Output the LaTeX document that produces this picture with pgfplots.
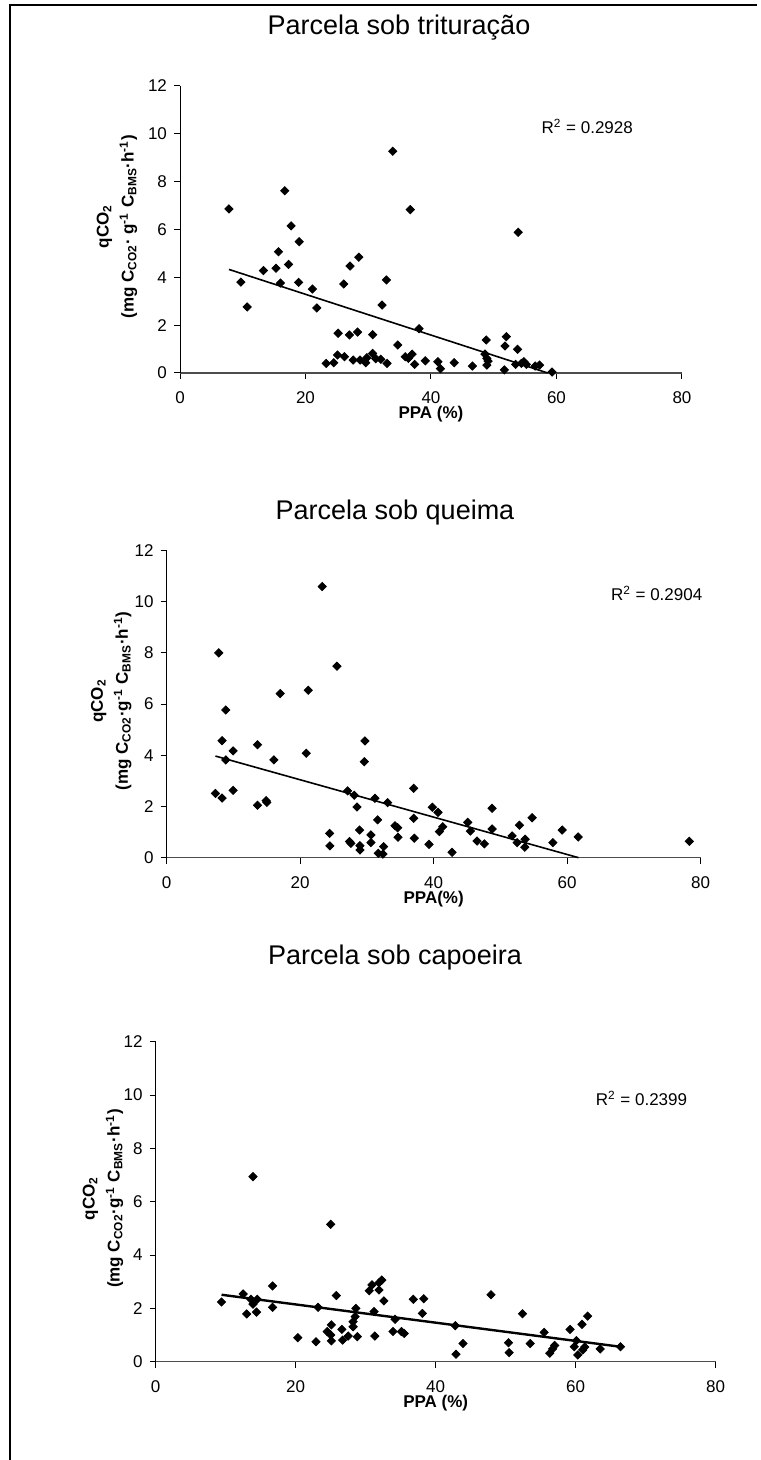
\documentclass[border=0pt]{standalone}
\usepackage{fontspec}
\setmainfont{Liberation Sans}
\usepackage{pgfplots}
\pgfplotsset{compat=1.18}

\pgfplotsset{
  parcela/.style={
    scale only axis,
    anchor=south west,
    xmin=0, xmax=80, ymin=0, ymax=12,
    xtick={0,20,...,80}, ytick={0,2,...,12},
    axis x line*=bottom, axis y line*=left,
    x axis line style={black!70, line width=0.6pt},
    y axis line style={black, line width=0.5pt},
    tick align=outside, major tick length=3pt,
    tick style={black, line width=0.5pt},
    ticklabel style={font=\fontsize{8.5}{10}\selectfont},
    /pgf/number format/assume math mode=true,
    xticklabel style={yshift=-3pt},
    clip=false,
    every axis x label/.style={at={(axis description cs:0.5,0)}, anchor=center,
      yshift=-20.5pt, font=\bfseries\fontsize{8.5}{10}\selectfont},
  },
  ylab/.style={every axis y label/.style={at={(axis description cs:#1,0.51)},
      rotate=90, anchor=center, align=center,
      font=\bfseries\fontsize{8.5}{12.5}\selectfont}},
  diam/.style={only marks, mark=square*, mark size=1.45pt,
    mark options={rotate=45, fill=black, draw=black}},
  tend/.style={black, line width=0.8pt, no marks},
}

\begin{document}
\begin{tikzpicture}
\path[use as bounding box] (0,0) rectangle (380pt,730pt);
\draw[line width=1.2pt] (5pt,0) -- (5pt,727.5pt) -- (378.5pt,727.5pt);

% --- trituracao
\node[font=\fontsize{13.5}{16}\selectfont] at (199.5pt,716pt) {Parcela sob trituração};
\begin{axis}[parcela, ylab=-0.1255,
  at={(90pt,543.5pt)}, width=251pt, height=143.5pt,
  xlabel={PPA (\%)},
  ylabel={qCO\textsubscript{2}\\(mg C\textsubscript{CO2}· g\textsuperscript{-1} C\textsubscript{BMS}·h\textsuperscript{-1})}]
\addplot[diam] coordinates {
(7.8,6.86) (9.7,3.80) (10.7,2.76) (13.3,4.28) (15.3,4.38) (15.7,5.07) (16.0,3.76)
(16.7,7.62) (17.3,4.54) (17.7,6.15) (19.0,5.49) (18.9,3.79) (21.1,3.51) (21.8,2.72)
(23.3,0.40) (24.5,0.43) (25.2,1.66) (25.1,0.75) (26.2,0.68) (26.1,3.72) (27.1,4.47)
(27.0,1.59) (27.6,0.54) (28.3,1.71) (28.5,4.84) (28.7,0.54) (29.6,0.43) (29.8,0.64)
(30.7,0.82) (30.7,1.60) (31.2,0.60) (32.0,0.57) (32.2,2.84) (32.9,3.89) (33.0,0.40)
(33.9,9.27) (34.7,1.17) (35.9,0.68) (36.4,0.61) (36.7,6.83) (37.0,0.79) (37.4,0.36)
(38.1,1.85) (39.1,0.51) (41.1,0.47) (41.5,0.18) (43.7,0.43) (46.6,0.29) (48.8,1.38)
(48.6,0.79) (48.9,0.61) (49.1,0.50) (48.9,0.33) (51.7,0.13) (52.0,1.52) (51.8,1.13)
(53.8,0.99) (53.9,5.88) (53.5,0.36) (54.4,0.40) (54.8,0.47) (55.2,0.36) (56.6,0.29)
(57.3,0.33) (59.3,0.04)
};
\addplot[tend] coordinates {(7.8,4.33) (58.6,0.0)};
\node[font=\fontsize{8.5}{10}\selectfont] at (axis cs:64.9,10.3) {R\textsuperscript{2} = 0.2928};
\end{axis}

% --- queima
\node[font=\fontsize{13.5}{16}\selectfont] at (197.5pt,473.5pt) {Parcela sob queima};
\begin{axis}[parcela, ylab=-0.104,
  at={(83.35pt,301.15pt)}, width=267pt, height=153.6pt,
  xlabel={PPA(\%)},
  ylabel={qCO\textsubscript{2}\\(mg C\textsubscript{CO2}·g\textsuperscript{-1} C\textsubscript{BMS}·h\textsuperscript{-1})}]
\addplot[diam] coordinates {
(7.3,2.51) (7.8,8.0) (8.3,2.33) (8.3,4.57) (8.85,5.77) (8.85,3.82) (9.95,4.17)
(9.95,2.63) (13.6,4.41) (13.6,2.05) (14.9,2.23) (15.0,2.16) (16.05,3.82) (17.0,6.41)
(20.9,4.08) (21.2,6.54) (23.3,10.59) (24.4,0.95) (24.45,0.46) (25.5,7.48) (27.1,2.61)
(27.4,0.63) (27.6,0.56) (28.1,2.44) (28.5,1.98) (28.9,1.08) (28.95,0.47) (28.95,0.30)
(29.7,4.56) (29.6,3.75) (30.6,0.89) (30.6,0.59) (31.2,2.32) (31.6,1.48) (31.7,0.17)
(32.4,0.14) (32.5,0.43) (33.1,2.15) (34.2,1.25) (34.6,1.17) (34.65,0.80) (37.0,2.71)
(37.0,1.54) (37.1,0.76) (39.3,0.52) (39.8,1.97) (40.65,1.77) (40.85,1.02) (41.35,1.21)
(42.75,0.21) (45.1,1.38) (45.5,1.04) (46.5,0.65) (47.6,0.54) (48.75,1.93) (48.75,1.12)
(51.75,0.85) (52.5,0.59) (52.85,1.27) (53.7,0.72) (53.65,0.41) (54.75,1.56) (57.85,0.59)
(59.25,1.08) (61.65,0.81) (78.3,0.64)
};
\addplot[tend] coordinates {(7.3,3.97) (61.7,0.0)};
\node[font=\fontsize{8.5}{10}\selectfont] at (axis cs:73.4,10.33) {R\textsuperscript{2} = 0.2904};
\end{axis}

% --- capoeira
\node[font=\fontsize{13.5}{16}\selectfont] at (197.5pt,251pt) {Parcela sob capoeira};
\begin{axis}[parcela, ylab=-0.094,
  at={(77.85pt,49.15pt)}, width=280pt, height=160pt,
  xlabel={PPA (\%)},
  ylabel={qCO\textsubscript{2}\\(mg C\textsubscript{CO2}·g\textsuperscript{-1} C\textsubscript{BMS}·h\textsuperscript{-1})}]
\addplot[diam] coordinates {
(9.4,2.24) (12.5,2.54) (13.0,1.79) (13.6,2.34) (13.9,2.16) (14.4,1.86) (14.5,2.34)
(13.9,6.94) (16.7,2.84) (16.7,2.04) (20.3,0.90) (22.9,0.75) (23.2,2.04) (25.0,5.15)
(24.5,1.13) (25.1,1.38) (25.0,1.00) (25.1,0.78) (25.8,2.48) (26.6,1.21) (26.7,0.81)
(27.5,0.96) (28.2,1.31) (28.5,1.69) (28.6,2.00) (28.2,1.50) (28.8,0.94) (30.5,2.66)
(30.9,2.88) (31.2,1.88) (31.3,0.96) (31.9,2.69) (31.9,2.96) (32.3,3.06) (32.6,2.28)
(33.9,1.13) (34.2,1.59) (35.1,1.13) (35.5,1.06) (36.8,2.34) (38.3,2.36) (38.1,1.81)
(42.8,1.35) (42.9,0.28) (43.9,0.68) (47.9,2.51) (50.4,0.71) (50.5,0.34) (52.4,1.80)
(53.5,0.68) (55.5,1.10) (56.3,0.32) (56.7,0.48) (57.0,0.61) (59.2,1.21) (60.1,0.79)
(59.8,0.56) (60.3,0.25) (61.0,0.44) (61.3,0.55) (60.9,1.40) (61.7,1.71) (63.5,0.48)
(66.4,0.56)
};
\addplot[tend, line width=1.2pt] coordinates {(9.4,2.51) (66.4,0.56)};
\node[font=\fontsize{8.5}{10}\selectfont] at (axis cs:69.4,9.88) {R\textsuperscript{2} = 0.2399};
\end{axis}
\end{tikzpicture}
\end{document}
